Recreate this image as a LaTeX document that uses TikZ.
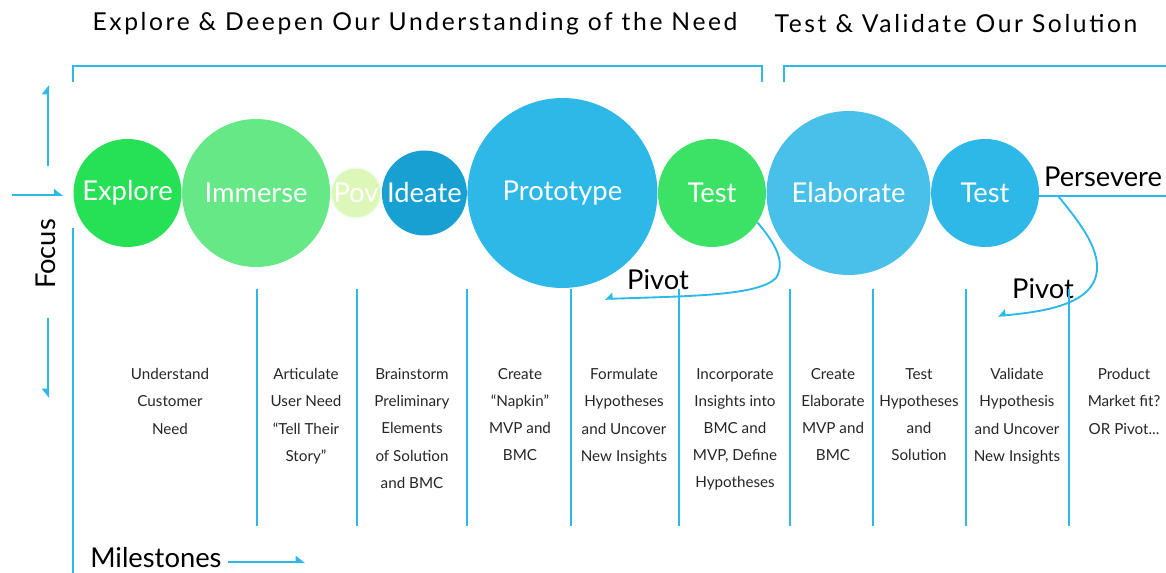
\documentclass[tikz,border=0pt]{standalone}
\usepackage{fontspec}
\setmainfont{Lato}
\newfontfamily\headfont[LetterSpace=10.5]{Lato}
\usetikzlibrary{arrows.meta,positioning}

\definecolor{lineblue}{RGB}{45,184,232}
\definecolor{exploregreen}{RGB}{38,224,85}
\definecolor{immersegreen}{RGB}{103,232,135}
\definecolor{povyellow}{RGB}{221,247,184}
\definecolor{ideateblue}{RGB}{24,160,210}
\definecolor{protoblue}{RGB}{46,184,232}
\definecolor{testgreen}{RGB}{60,226,101}
\definecolor{elabblue}{RGB}{72,192,234}

\begin{document}
\begin{tikzpicture}[x=0.75pt,y=-0.75pt,
  bub/.style={circle, inner sep=0pt, text=white, font=\fontsize{20.5}{24}\selectfont},
  head/.style={font=\headfont\fontsize{18.5}{22}\selectfont},
  lbl/.style={font=\fontsize{20.5}{24}\selectfont, inner sep=0pt},
  stage/.style={anchor=north, align=center, text=black!85, font=\fontsize{11.4}{20.3}\selectfont},
  wire/.style={draw=lineblue, line width=1.8pt},
  colline/.style={draw=lineblue, line width=1.4pt},
  axis/.style={wire, -{Triangle[harpoon, length=6pt, width=9pt]}},
  pivot/.style={draw=lineblue, line width=1.4pt, -{Triangle[harpoon, swap, length=5pt, width=9pt]}},
]
\useasboundingbox (0,0) rectangle (1166,573);

% the two phases across the top
\node[head] (need) at (415,24) {Explore \& Deepen Our Understanding of the Need};
\node[head] (solution) at (956,24) {Test \& Validate Our Solution};
\draw[wire] (73,82) |- (762,66) -- (762,82);
\draw[wire] (784,82) |- (1166,66);

% chain of stage bubbles, each touching the next
\node[bub, fill=exploregreen, minimum size=81pt] (explore) at (127.5,193) {Explore};
\node[bub, fill=immersegreen, minimum size=111pt, right=0pt of explore] (immerse) {Immerse};
\node[bub, fill=povyellow, draw=green!8, line width=1pt, minimum size=37.5pt, right=0pt of immerse] (pov) {Pov};
\node[bub, fill=ideateblue, minimum size=63.75pt, right=0pt of pov] (ideate) {Ideate};
\node[bub, fill=protoblue, minimum size=142.5pt, right=0pt of ideate] (prototype) {Prototype};
\node[bub, fill=testgreen, minimum size=81pt, right=0pt of prototype] (test1) {Test};
\node[bub, fill=elabblue, minimum size=123pt, right=0pt of test1] (elaborate) {Elaborate};
\node[bub, fill=protoblue, minimum size=81pt, right=0pt of elaborate] (test2) {Test};

% focus axis on the left
\node[lbl, rotate=90] (focus) at (46,254) {Focus};
\coordinate (focusup) at (48,85);
\coordinate (focusupfrom) at (48,166);
\coordinate (focusdown) at (48,398);
\coordinate (focusdownfrom) at (48,318);
\coordinate (focusin) at (12,195);
\draw[axis] (focusupfrom) -- (focusup);
\draw[axis, -{Triangle[harpoon, swap, length=6pt, width=9pt]}] (focusdownfrom) -- (focusdown);
\draw[axis] (focusin) -- ([xshift=-7.5pt]explore.west |- focusin);
\draw[wire] (73,228) -- (73,573);

% persevere or pivot
\node[lbl] (persevere) at (1103,177) {Persevere};
\coordinate (perseverend) at (1166,196);
\coordinate (fork) at (1058,196);
\draw[wire] (test2.east |- perseverend) -- (perseverend);
\node[lbl] (pivot1) at (658,280) {Pivot};
\node[lbl] (pivot2) at (1043,289) {Pivot};
\coordinate (pivotback1) at (605,299);
\coordinate (pivotback2) at (998,316);
\draw[pivot] (test1.-33) .. controls (775,243) and (786,262) .. (776,278)
  .. controls (758,296) and (690,296) .. (pivotback1);
\draw[pivot] (fork) .. controls (1082,225) and (1102,252) .. (1096,276)
  .. controls (1088,306) and (1040,312) .. (pivotback2);

% milestone columns
\foreach \x in {257,357,467,571,679,790,873,966,1069}
  \draw[colline] (\x,289) -- (\x,526);
\node[stage] (m1) at (170,364) {Understand\\Customer\\Need};
\node[stage] (m2) at (306,364) {Articulate\\User Need\\“Tell Their\\Story”};
\node[stage] (m3) at (412,364) {Brainstorm\\Preliminary\\Elements\\of Solution\\and BMC};
\node[stage] (m4) at (520,364) {Create\\“Napkin”\\MVP and\\BMC};
\node[stage] (m5) at (624,364) {Formulate\\Hypotheses\\and Uncover\\New Insights};
\node[stage] (m6) at (735,364) {Incorporate\\Insights into\\BMC and\\MVP, Define\\Hypotheses};
\node[stage] (m7) at (833,364) {Create\\Elaborate\\MVP and\\BMC};
\node[stage] (m8) at (919,364) {Test\\Hypotheses\\and\\Solution};
\node[stage] (m9) at (1017,364) {Validate\\Hypothesis\\and Uncover\\New Insights};
\node[stage] (m10) at (1124,364) {Product\\Market fit?\\OR Pivot...};

\node[lbl, anchor=west] (miles) at (90,558) {Milestones};
\coordinate (milestip) at (305,562);
\draw[axis] ([xshift=5pt]miles.east |- milestip) -- (milestip);
\end{tikzpicture}
\end{document}
